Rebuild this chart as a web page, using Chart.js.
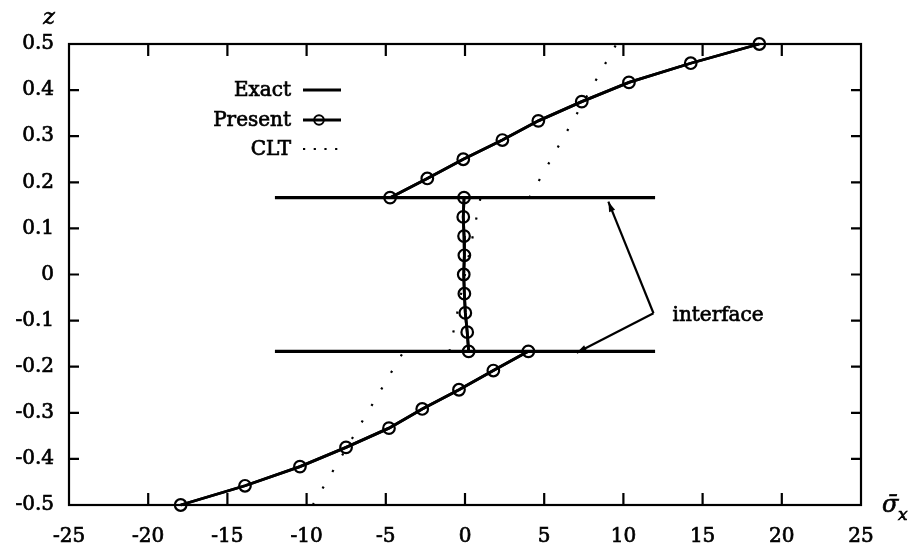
<!DOCTYPE html>
<html>
<head>
<meta charset="utf-8">
<script src="https://cdn.jsdelivr.net/npm/chart.js@4.4.1/dist/chart.umd.min.js"></script>
<style>
  html, body { margin: 0; padding: 0; background: #ffffff; }
  #wrap { width: 920px; height: 554px; }
</style>
</head>
<body>
<div id="wrap"><canvas id="c" width="920" height="554"></canvas></div>
<script>
// Axis ticks
const xTicks = [-25, -20, -15, -10, -5, 0, 5, 10, 15, 20, 25];
const xTickLabels = ['-25', '-20', '-15', '-10', '-5', '0', '5', '10', '15', '20', '25'];
const yTicks = [-0.5, -0.4, -0.3, -0.2, -0.1, 0, 0.1, 0.2, 0.3, 0.4, 0.5];
const yTickLabels = ['-0.5', '-0.4', '-0.3', '-0.2', '-0.1', '0', '0.1', '0.2', '0.3', '0.4', '0.5'];

// Thickness coordinate z of the sampling stations in each layer
const zLower  = [-0.5, -0.4583, -0.4167, -0.375, -0.3333, -0.2917, -0.25, -0.2083, -0.1667];
const zMiddle = [0.1667, 0.125, 0.0833, 0.0417, 0, -0.0417, -0.0833, -0.125, -0.1667];
const zUpper  = [0.1667, 0.2083, 0.25, 0.2917, 0.3333, 0.375, 0.4167, 0.4583, 0.5];

// Present model: normalised in-plane stress at those stations
const presentLower  = [-17.95, -13.89, -10.42, -7.51, -4.8, -2.7, -0.38, 1.79, 4.0];
const presentMiddle = [-0.06, -0.11, -0.06, -0.04, -0.08, -0.04, 0.02, 0.14, 0.23];
const presentUpper  = [-4.73, -2.38, -0.11, 2.36, 4.63, 7.37, 10.35, 14.25, 18.58];

// Exact elasticity solution (coincides with the present model)
const exactLower  = [-17.95, -13.89, -10.42, -7.51, -4.8, -2.7, -0.38, 1.79, 4.0];
const exactMiddle = [-0.06, -0.11, -0.06, -0.04, -0.08, -0.04, 0.02, 0.14, 0.23];
const exactUpper  = [-4.73, -2.38, -0.11, 2.36, 4.63, 7.37, 10.35, 14.25, 18.58];

// Classical lamination theory: linear in each layer (end values)
const cltZLower = [-0.5, -0.1667];
const cltLower  = [-9.61, -3.87];
const cltZMiddle = [-0.1667, 0.1667];
const cltMiddle  = [-0.98, 0.98];
const cltZUpper = [0.1667, 0.5];
const cltUpper  = [4.06, 9.56];

// Layer interfaces
const interfaceZ = [0.1667, -0.1667];
const interfaceSpan = [-12, 12];

// "interface" annotation: label anchor and arrow tips (sigma, z)
const interfaceLabel = 'interface';
const labelAnchor = [11.9, -0.084];
const arrowTips = [[9.05, 0.158], [7.05, -0.1696]];

const FONT = "'DejaVu Serif', 'Liberation Serif', serif";
const TEXT_STROKE = 0.7;

const pts = (xs, zs) => xs.map((v, i) => ({ x: v, y: zs[i] }));

const LINE_W = 2.8;

function exactSet(xs, zs, label) {
  return { label, data: pts(xs, zs), showLine: true, borderColor: '#000', borderWidth: LINE_W,
           pointRadius: 0, pointHoverRadius: 0, fill: false, clip: false, order: 2 };
}
function presentSet(xs, zs, label) {
  return { label, data: pts(xs, zs), showLine: true, borderColor: '#000', borderWidth: LINE_W,
           pointRadius: 5.8, pointBorderWidth: 2.2, pointBorderColor: '#000',
           pointBackgroundColor: 'rgba(0,0,0,0)', pointStyle: 'circle',
           fill: false, clip: false, order: 1 };
}
function cltSet(xs, zs, label) {
  return { label, data: pts(xs, zs), showLine: true, borderColor: '#000', borderWidth: 2.2,
           borderDash: [2.2, 17], pointRadius: 0, fill: false, clip: false, order: 3 };
}
function interfaceSet(z) {
  return { label: 'interface', data: interfaceSpan.map(s => ({ x: s, y: z })), showLine: true,
           borderColor: '#000', borderWidth: 3.4, pointRadius: 0, fill: false, clip: false, order: 4 };
}

const datasets = [
  exactSet(exactLower, zLower, 'Exact'),
  exactSet(exactMiddle, zMiddle, 'Exact'),
  exactSet(exactUpper, zUpper, 'Exact'),
  presentSet(presentLower, zLower, 'Present'),
  presentSet(presentMiddle, zMiddle, 'Present'),
  presentSet(presentUpper, zUpper, 'Present'),
  cltSet(cltLower, cltZLower, 'CLT'),
  cltSet(cltMiddle, cltZMiddle, 'CLT'),
  cltSet(cltUpper, cltZUpper, 'CLT'),
  interfaceSet(interfaceZ[0]),
  interfaceSet(interfaceZ[1])
];

function heavyText(ctx, s, x, y) {
  ctx.fillText(s, x, y);
  ctx.lineWidth = TEXT_STROKE;
  ctx.strokeText(s, x, y);
}

// Frame, inward tick marks, in-plot legend, axis symbols and interface arrows
const decor = {
  id: 'decor',
  beforeDatasetsDraw(chart) {
    const { ctx, chartArea: a, scales: { x, y } } = chart;
    ctx.save();
    ctx.strokeStyle = '#000';
    ctx.lineWidth = 2.2;
    ctx.strokeRect(a.left, a.top, a.right - a.left, a.bottom - a.top);
    ctx.beginPath();
    xTicks.forEach(v => {
      if (v === x.min || v === x.max) return;
      const px = x.getPixelForValue(v);
      ctx.moveTo(px, a.bottom); ctx.lineTo(px, a.bottom - 12);
      ctx.moveTo(px, a.top); ctx.lineTo(px, a.top + 12);
    });
    yTicks.forEach(v => {
      if (v === y.min || v === y.max) return;
      const py = y.getPixelForValue(v);
      ctx.moveTo(a.left, py); ctx.lineTo(a.left + 10, py);
      ctx.moveTo(a.right, py); ctx.lineTo(a.right - 10, py);
    });
    ctx.stroke();
    ctx.restore();
  },
  afterDraw(chart) {
    const { ctx, chartArea: a, scales: { x, y } } = chart;
    ctx.save();
    ctx.fillStyle = '#000';
    ctx.strokeStyle = '#000';

    // legend
    const rows = [
      { ds: datasets[0], y: 90 },
      { ds: datasets[3], y: 120 },
      { ds: datasets[6], y: 149 }
    ];
    const textRight = 291, sx0 = 303, sx1 = 341;
    ctx.font = '20px ' + FONT;
    ctx.textAlign = 'right';
    ctx.textBaseline = 'middle';
    rows.forEach(r => {
      heavyText(ctx, r.ds.label, textRight, r.y + 1);
      ctx.beginPath();
      ctx.lineWidth = r.ds.borderWidth;
      ctx.setLineDash(r.ds === datasets[6] ? [2.2, 8.5] : []);
      ctx.moveTo(sx0, r.y); ctx.lineTo(sx1, r.y);
      ctx.stroke();
      ctx.setLineDash([]);
      if (r.ds.pointRadius > 0) {
        ctx.beginPath();
        ctx.lineWidth = 2;
        ctx.arc(319, r.y, 4.8, 0, Math.PI * 2);
        ctx.stroke();
      }
    });

    // axis symbols
    ctx.textAlign = 'center';
    ctx.font = 'italic 22px ' + FONT;
    heavyText(ctx, 'z', 49, 18);
    ctx.textAlign = 'left';
    ctx.font = 'italic 24px ' + FONT;
    heavyText(ctx, '\u03C3\u0304', 882, 506);
    ctx.font = 'italic 17px ' + FONT;
    heavyText(ctx, 'x', 898, 516);

    // interface annotation
    const ax = x.getPixelForValue(labelAnchor[0]);
    const ay = y.getPixelForValue(labelAnchor[1]);
    ctx.font = '20px ' + FONT;
    ctx.textAlign = 'left';
    ctx.textBaseline = 'middle';
    heavyText(ctx, interfaceLabel, ax + 19, ay + 3);
    ctx.lineWidth = 2.2;
    arrowTips.forEach(t => {
      const tx = x.getPixelForValue(t[0]);
      const ty = y.getPixelForValue(t[1]);
      ctx.beginPath();
      ctx.moveTo(ax, ay); ctx.lineTo(tx, ty);
      ctx.stroke();
      const ang = Math.atan2(ty - ay, tx - ax);
      const L = 10, W = 3.2;
      ctx.beginPath();
      ctx.moveTo(tx, ty);
      ctx.lineTo(tx - L * Math.cos(ang) + W * Math.sin(ang), ty - L * Math.sin(ang) - W * Math.cos(ang));
      ctx.lineTo(tx - L * Math.cos(ang) - W * Math.sin(ang), ty - L * Math.sin(ang) + W * Math.cos(ang));
      ctx.closePath();
      ctx.fill();
    });
    ctx.restore();
  }
};

Chart.defaults.font.family = FONT;
Chart.defaults.color = '#000';

new Chart(document.getElementById('c'), {
  type: 'scatter',
  data: { datasets },
  options: {
    responsive: false,
    animation: false,
    devicePixelRatio: 1,
    layout: { padding: { left: 0, top: 44, right: 59, bottom: 0 } },
    plugins: { legend: { display: false }, tooltip: { enabled: false } },
    scales: {
      x: {
        type: 'linear', min: -25, max: 25,
        afterBuildTicks: s => { s.ticks = xTicks.map(v => ({ value: v })); },
        afterFit: s => { s.height = 49; },
        grid: { display: false, drawTicks: false },
        border: { display: false },
        ticks: { font: { size: 20 }, color: '#000', padding: 20, maxRotation: 0,
                 textStrokeColor: '#000', textStrokeWidth: TEXT_STROKE,
                 callback: (v, i) => xTickLabels[i] }
      },
      y: {
        type: 'linear', min: -0.5, max: 0.5,
        afterBuildTicks: s => { s.ticks = yTicks.map(v => ({ value: v })); },
        afterFit: s => { s.width = 69; },
        grid: { display: false, drawTicks: false },
        border: { display: false },
        ticks: { font: { size: 20 }, color: '#000', padding: 15,
                 textStrokeColor: '#000', textStrokeWidth: TEXT_STROKE,
                 callback: (v, i) => yTickLabels[i] }
      }
    }
  },
  plugins: [decor]
});
</script>
</body>
</html>
